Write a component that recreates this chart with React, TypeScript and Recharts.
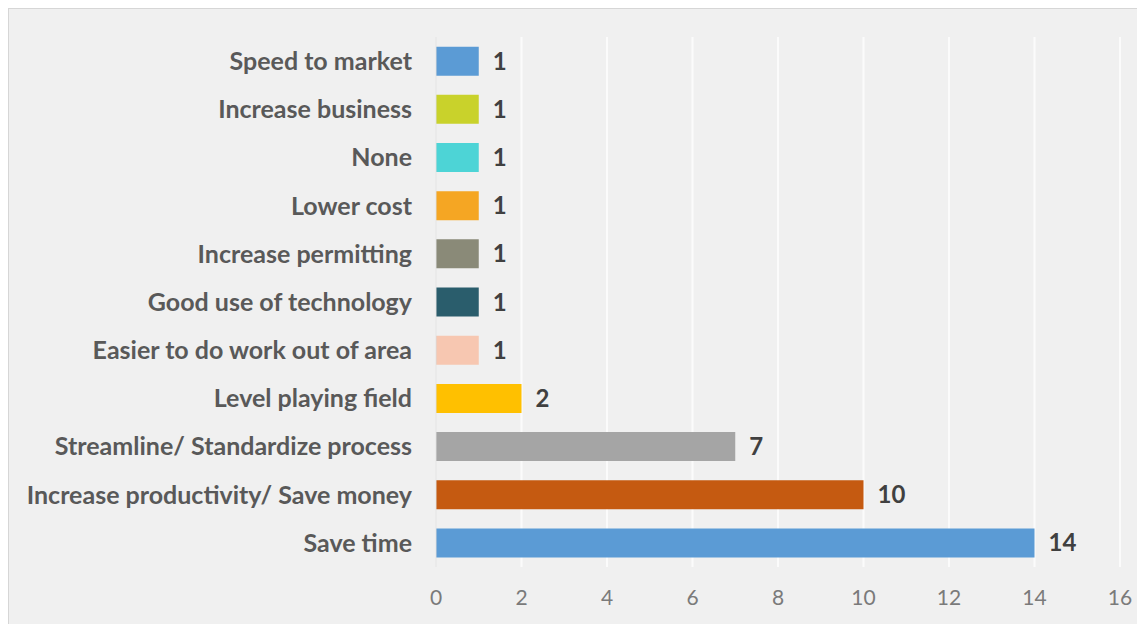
import { BarChart, Bar, XAxis, YAxis, CartesianGrid, Cell, LabelList } from "recharts";

const categories = [
  "Speed to market",
  "Increase business",
  "None",
  "Lower cost",
  "Increase permitting",
  "Good use of technology",
  "Easier to do work out of area",
  "Level playing field",
  "Streamline/ Standardize process",
  "Increase productivity/ Save money",
  "Save time",
];
const counts = [1, 1, 1, 1, 1, 1, 1, 2, 7, 10, 14];
const xTicks = [0, 2, 4, 6, 8, 10, 12, 14, 16];

const barColors = [
  "#5b9bd5",
  "#c9d22b",
  "#4dd4d6",
  "#f5a623",
  "#8a8a78",
  "#2a5d6c",
  "#f7c7b1",
  "#ffc000",
  "#a5a5a5",
  "#c55a11",
  "#5b9bd5",
];

const data = categories.map((name, i) => ({ name, value: counts[i] }));

const font = "Lato, 'Open Sans', sans-serif";

export default function App() {
  return (
    <div
      style={{
        width: 1137,
        height: 630,
        background: "#f0f0f0",
        border: "1px solid #d6d6d6",
        boxSizing: "border-box",
        fontFamily: font,
      }}
    >
      <BarChart
        width={1135}
        height={628}
        data={data}
        layout="vertical"
        margin={{ top: 28, right: 24, bottom: 30, left: 0 }}
        barCategoryGap="20%"
      >
        <CartesianGrid horizontal={false} stroke="#fbfbfb" strokeWidth={2} />
        <XAxis
          type="number"
          domain={[0, 16]}
          ticks={xTicks}
          axisLine={false}
          tickLine={false}
          tickMargin={17}
          height={40}
          tick={{ fill: "#7a7a7a", fontSize: 21, fontFamily: font }}
        />
        <YAxis
          type="category"
          dataKey="name"
          width={427}
          axisLine={{ stroke: "#d9d9d9" }}
          tickLine={false}
          tickSize={0}
          tickMargin={24}
          interval={0}
          tick={{ fill: "#595959", fontSize: 25, fontWeight: 700, fontFamily: font }}
        />
        <Bar dataKey="value" isAnimationActive={false}>
          {data.map((d, i) => (
            <Cell key={d.name} fill={barColors[i]} />
          ))}
          <LabelList
            dataKey="value"
            position="right"
            offset={14}
            fill="#404040"
            fontSize={24}
            fontWeight={700}
            fontFamily={font}
          />
        </Bar>
      </BarChart>
    </div>
  );
}
